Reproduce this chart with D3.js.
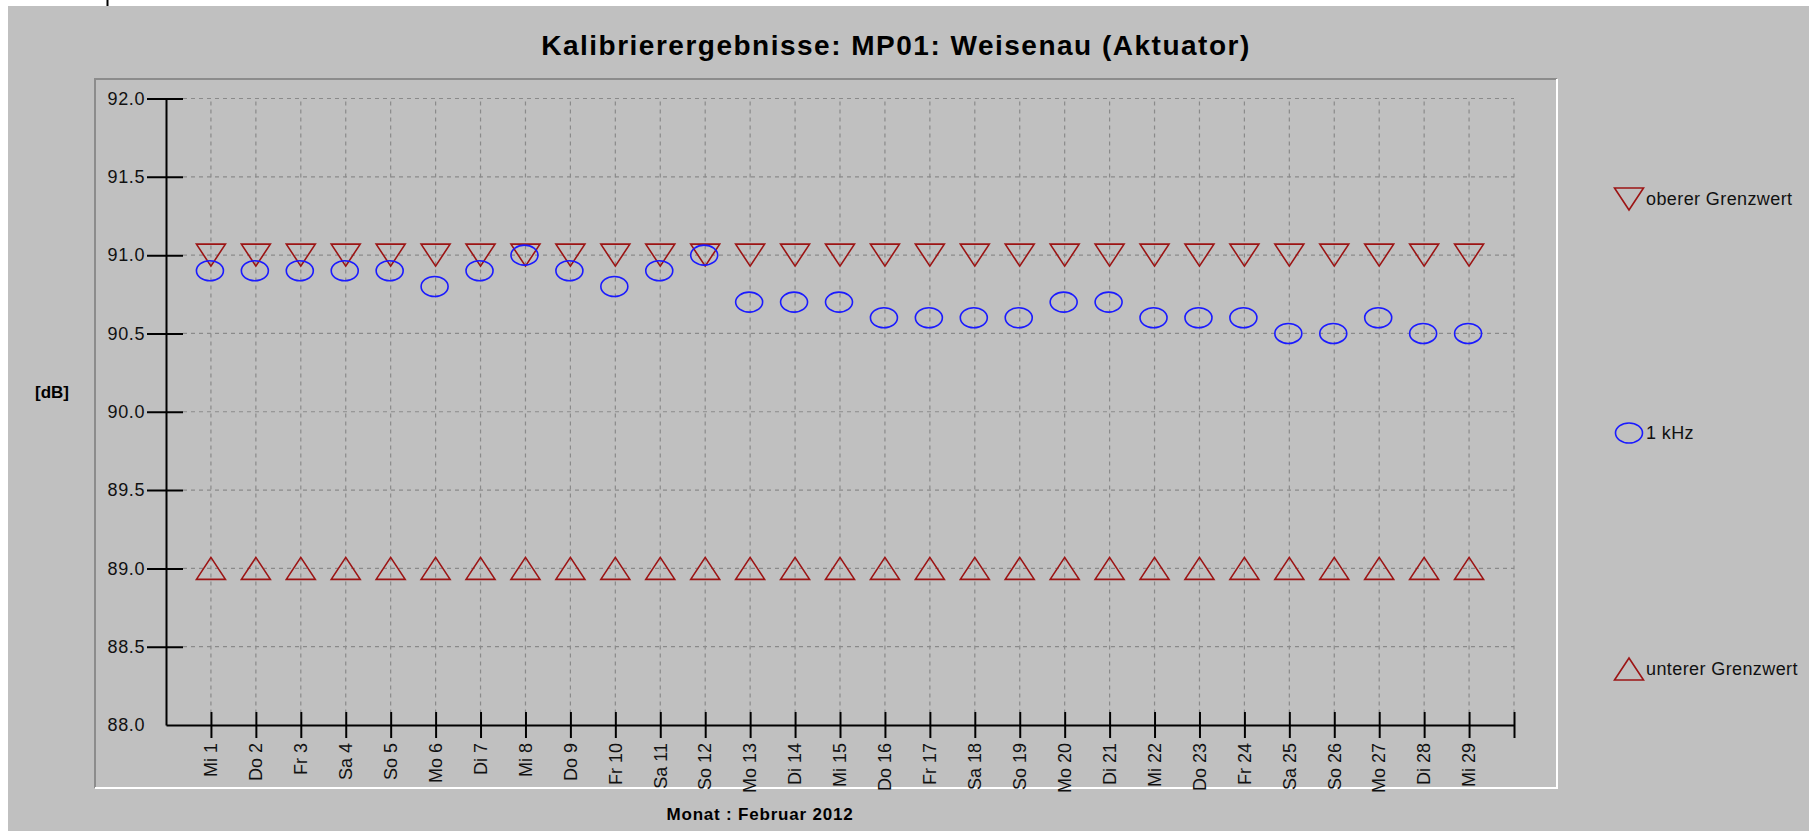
<!DOCTYPE html>
<html>

<head>
<meta charset="utf-8">
<script src="https://d3js.org/d3.v7.min.js"></script>
<style>
  body { margin: 0; background: #fff; }
  text { font-family: "Liberation Sans", Arial, sans-serif; }
</style>
</head>

<body>
  <script>
    // data
    var days = d3.range(1, 30);
    var dayNames = ["Mi", "Do", "Fr", "Sa", "So", "Mo", "Di"];
    var tickLabels = days.map(function(d) { return dayNames[(d - 1) % 7] + " " + d; });
    var upperLimit = days.map(function() { return 91.0; });
    var lowerLimit = days.map(function() { return 89.0; });
    var khz1 = [90.9, 90.9, 90.9, 90.9, 90.9, 90.8, 90.9, 91.0, 90.9, 90.8,
                90.9, 91.0, 90.7, 90.7, 90.7, 90.6, 90.6, 90.6, 90.6, 90.7,
                90.7, 90.6, 90.6, 90.6, 90.5, 90.5, 90.6, 90.5, 90.5];
    var yTicks = [88.0, 88.5, 89.0, 89.5, 90.0, 90.5, 91.0, 91.5, 92.0];

    var width = 1809, height = 831;
    var red = "#9c1414", blue = "#1a1aff";

    var svg = d3.select("body").append("svg")
      .attr("width", width)
      .attr("height", height);

    // gray background, white strips top/left
    svg.append("rect").attr("x", 8).attr("y", 6)
      .attr("width", width - 8).attr("height", height - 6)
      .attr("fill", "#c0c0c0");
    svg.append("line").attr("x1", 107.5).attr("x2", 107.5).attr("y1", 0).attr("y2", 6)
      .attr("stroke", "#000").attr("stroke-width", 2);

    // etched panel border
    var px0 = 95, py0 = 79, px1 = 1557, py1 = 788;
    svg.append("path").attr("d", "M" + px0 + "," + py1 + "V" + py0 + "H" + px1)
      .attr("fill", "none").attr("stroke", "#8c8c8c").attr("stroke-width", 2);
    svg.append("path").attr("d", "M" + px0 + "," + py1 + "H" + px1 + "V" + py0)
      .attr("fill", "none").attr("stroke", "#fff").attr("stroke-width", 2);

    var x = d3.scaleLinear().domain([0, 30]).range([166, 1514]);
    var y = d3.scaleLinear().domain([88, 92]).range([725, 98.5]);

    // grid
    var grid = svg.append("g")
      .attr("stroke", "#8a8a8a").attr("stroke-dasharray", "4,4").attr("stroke-width", 1.2);
    grid.selectAll("line.h").data(yTicks.filter(function(v) { return v > 88; }))
      .enter().append("line")
      .attr("x1", 183).attr("x2", x(30))
      .attr("y1", function(d) { return y(d); })
      .attr("y2", function(d) { return y(d); });
    grid.selectAll("line.v").data(d3.range(1, 31))
      .enter().append("line")
      .attr("x1", function(d) { return x(d); })
      .attr("x2", function(d) { return x(d); })
      .attr("y1", y(92) + 3).attr("y2", y(88) - 13);

    // y axis
    var yAxis = svg.append("g")
      .attr("transform", "translate(" + x(0) + ",0)")
      .call(d3.axisLeft(y).tickValues(yTicks).tickSize(19).tickSizeOuter(0).tickPadding(2)
        .tickFormat(d3.format(".1f")));
    yAxis.select(".domain").attr("stroke", "#000").attr("stroke-width", 2);
    yAxis.selectAll(".tick line").attr("stroke", "#000").attr("stroke-width", 2)
      .attr("x1", -19).attr("x2", 17)
      .filter(function(d) { return d === 88; }).remove();
    yAxis.selectAll(".tick text")
      .attr("font-family", "Liberation Sans, Arial, sans-serif")
      .attr("font-size", 18).attr("fill", "#111")
      .attr("letter-spacing", 0.6);

    // x axis
    var xAxis = svg.append("g")
      .attr("transform", "translate(0," + y(88) + ")")
      .call(d3.axisBottom(x).tickValues(d3.range(1, 31)).tickSize(13).tickSizeOuter(0)
        .tickFormat(function(d) { return d <= 29 ? tickLabels[d - 1] : ""; }));
    xAxis.select(".domain").attr("stroke", "#000").attr("stroke-width", 2);
    xAxis.selectAll(".tick line").attr("stroke", "#000").attr("stroke-width", 2)
      .attr("y1", -13).attr("y2", 13);
    xAxis.selectAll(".tick text")
      .attr("font-family", "Liberation Sans, Arial, sans-serif")
      .attr("font-size", 18).attr("fill", "#111")
      .attr("text-anchor", "end")
      .attr("transform", "rotate(-90)")
      .attr("x", -18).attr("y", 0).attr("dy", "0.32em");

    // markers
    var triDown = "M-14.5,-11L14.5,-11L0,11Z";
    var triUp = "M-14.5,11L14.5,11L0,-11Z";

    svg.append("g").selectAll("path").data(upperLimit).enter().append("path")
      .attr("d", triDown)
      .attr("transform", function(d, i) { return "translate(" + x(days[i]) + "," + y(d) + ")"; })
      .attr("fill", "none").attr("stroke", red).attr("stroke-width", 1.6);

    svg.append("g").selectAll("path").data(lowerLimit).enter().append("path")
      .attr("d", triUp)
      .attr("transform", function(d, i) { return "translate(" + x(days[i]) + "," + y(d) + ")"; })
      .attr("fill", "none").attr("stroke", red).attr("stroke-width", 1.6);

    svg.append("g").selectAll("ellipse").data(khz1).enter().append("ellipse")
      .attr("cx", function(d, i) { return x(days[i]) - 1; })
      .attr("cy", function(d) { return y(d); })
      .attr("rx", 13.5).attr("ry", 10)
      .attr("fill", "none").attr("stroke", blue).attr("stroke-width", 1.6);

    // titles
    svg.append("text").attr("x", 896).attr("y", 55)
      .attr("text-anchor", "middle").attr("font-size", 28).attr("font-weight", "bold")
      .attr("letter-spacing", 1.5).attr("fill", "#000")
      .text("Kalibrierergebnisse: MP01: Weisenau (Aktuator)");
    svg.append("text").attr("x", 760).attr("y", 820)
      .attr("text-anchor", "middle").attr("font-size", 17).attr("font-weight", "bold")
      .attr("letter-spacing", 0.8).attr("fill", "#000")
      .text("Monat : Februar 2012");
    svg.append("text").attr("x", 35).attr("y", 398)
      .attr("font-size", 17).attr("font-weight", "bold").attr("fill", "#000")
      .text("[dB]");

    // legend
    var legend = [
      { label: "oberer Grenzwert", y: 199, shape: "down" },
      { label: "1 kHz", y: 433, shape: "circle" },
      { label: "unterer Grenzwert", y: 669, shape: "up" }
    ];
    var lg = svg.append("g").selectAll("g").data(legend).enter().append("g")
      .attr("transform", function(d) { return "translate(1629," + d.y + ")"; });
    lg.each(function(d) {
      var g = d3.select(this);
      if (d.shape === "circle") {
        g.append("ellipse").attr("rx", 13.5).attr("ry", 10)
          .attr("fill", "none").attr("stroke", blue).attr("stroke-width", 1.6);
      } else {
        g.append("path").attr("d", d.shape === "down" ? triDown : triUp)
          .attr("fill", "none").attr("stroke", red).attr("stroke-width", 1.6);
      }
      g.append("text").attr("x", 17).attr("dy", "0.35em")
        .attr("font-size", 18).attr("letter-spacing", 0.4).attr("fill", "#111").text(d.label);
    });
  </script>
</body>

</html>
